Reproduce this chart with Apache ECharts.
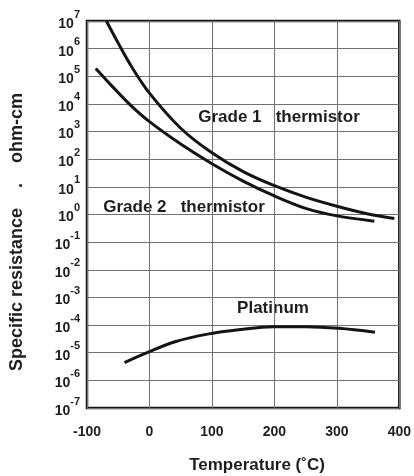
<!DOCTYPE html>
<html>
<head>
<meta charset="utf-8">
<script src="https://cdn.jsdelivr.net/npm/echarts@6/dist/echarts.min.js"></script>
<style>
  html, body { margin: 0; padding: 0; background: #ffffff; }
  #chart { width: 414px; height: 476px; }
</style>
</head>
<body>
<div id="chart"></div>
<script>
// Specific resistance (ohm-cm) against temperature (°C)
const grade1Temp = [-69, -50, -30, 0, 50, 100, 150, 200, 250, 300, 350, 392];
const grade1Rho  = [1.0e7, 1.58e6, 2.5e5, 2.45e4, 1.32e3, 170, 35.5, 11.0, 4.27, 2.0, 1.05, 0.72];

const grade2Temp = [-86, -60, -30, 0, 50, 100, 150, 200, 250, 300, 360];
const grade2Rho  = [1.9e5, 4.4e4, 8.9e3, 2.29e3, 355, 69, 16.2, 4.68, 1.66, 0.89, 0.575];

const platinumTemp = [-40, -1, 41, 93, 146, 198, 251, 303, 361];
const platinumRho  = [4.4e-6, 1.07e-5, 2.5e-5, 4.7e-5, 6.9e-5, 8.7e-5, 8.7e-5, 7.6e-5, 5.5e-5];

const tempTicks = [-100, 0, 100, 200, 300, 400];
const curveNames = ['Grade 1   thermistor', 'Grade 2   thermistor', 'Platinum'];
const xTitle = 'Temperature (˚C)';
const yTitle = 'Specific resistance    .    ohm-cm';

const FONT = '"Liberation Sans", Arial, sans-serif';
const INK = '#1e1e1e';

function pairs(xs, ys) {
  return xs.map((x, i) => [x, ys[i]]);
}

const curveStyle = {
  type: 'line',
  smooth: 0.35,
  symbol: 'none',
  silent: true,
  lineStyle: { color: '#141414', width: 3 }
};

const chart = echarts.init(document.getElementById('chart'), null, { renderer: 'canvas' });

chart.setOption({
  backgroundColor: '#ffffff',
  animation: false,
  textStyle: { fontFamily: FONT },
  grid: {
    left: 87, right: 9, top: 21, bottom: 68,
    show: true, borderColor: '#151515', borderWidth: 2.5,
    backgroundColor: 'transparent'
  },
  xAxis: {
    type: 'value',
    min: tempTicks[0],
    max: tempTicks[tempTicks.length - 1],
    interval: 100,
    axisLine: { show: false },
    axisTick: { show: false },
    splitLine: { show: true, lineStyle: { color: '#727272', width: 1 } },
    axisLabel: {
      margin: 17,
      showMinLabel: true, showMaxLabel: true,
      fontFamily: FONT, fontSize: 14, fontWeight: 'bold', color: INK
    }
  },
  yAxis: {
    type: 'log',
    logBase: 10,
    min: 1e-7,
    max: 1e7,
    interval: 1,
    axisLine: { show: false },
    axisTick: { show: false },
    splitLine: { show: true, lineStyle: { color: '#727272', width: 1 } },
    axisLabel: {
      margin: 7,
      showMinLabel: true, showMaxLabel: true,
      hideOverlap: false,
      formatter: v => '{b|10}{e|' + Math.round(Math.log10(v)) + '}',
      rich: {
        b: { fontFamily: FONT, fontSize: 14, fontWeight: 'bold', color: INK, lineHeight: 14, padding: [8, 0, 2, 0] },
        e: { fontFamily: FONT, fontSize: 11, fontWeight: 'bold', color: INK, lineHeight: 11, padding: [0, 0, 13, 0] }
      }
    }
  },
  graphic: [
    {
      type: 'text', x: 257, y: 465,
      style: { text: xTitle, font: 'bold 17px ' + FONT, fill: INK, align: 'center', verticalAlign: 'middle' }
    },
    {
      type: 'text', x: 17, y: 232, rotation: Math.PI / 2,
      style: { text: yTitle, font: 'bold 18px ' + FONT, fill: INK, align: 'center', verticalAlign: 'middle' }
    },
    {
      type: 'text', x: 279, y: 117,
      style: { text: curveNames[0], font: 'bold 17px ' + FONT, fill: INK, align: 'center', verticalAlign: 'middle' }
    },
    {
      type: 'text', x: 184, y: 207,
      style: { text: curveNames[1], font: 'bold 17px ' + FONT, fill: INK, align: 'center', verticalAlign: 'middle' }
    },
    {
      type: 'text', x: 273, y: 308,
      style: { text: curveNames[2], font: 'bold 17px ' + FONT, fill: INK, align: 'center', verticalAlign: 'middle' }
    }
  ],
  series: [
    Object.assign({ name: curveNames[0], data: pairs(grade1Temp, grade1Rho) }, curveStyle),
    Object.assign({ name: curveNames[1], data: pairs(grade2Temp, grade2Rho) }, curveStyle),
    Object.assign({ name: curveNames[2], data: pairs(platinumTemp, platinumRho) }, curveStyle)
  ]
});
</script>
</body>
</html>
